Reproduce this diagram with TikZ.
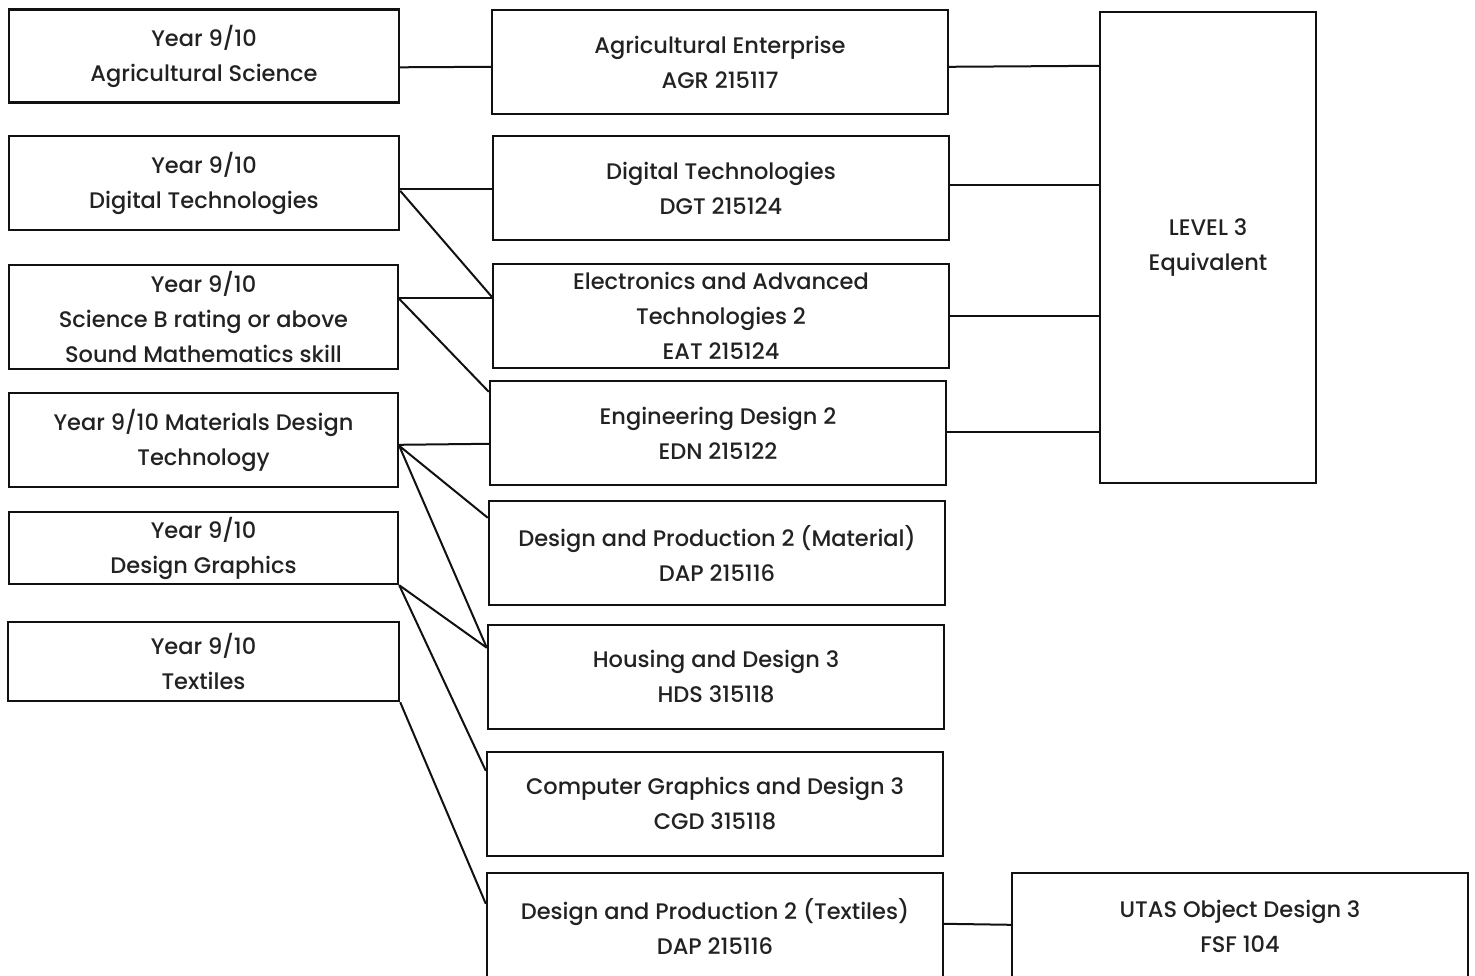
\documentclass[tikz,border=0pt]{standalone}
\usepackage{fontspec}
\setmainfont{Poppins}[UprightFont={* Medium}]
\usetikzlibrary{calc}
\definecolor{ink}{HTML}{111111}
\definecolor{txt}{HTML}{222222}
\tikzset{
  box/.style={draw=ink, line width=2.4pt, inner sep=0pt, align=center, text=txt,
    font=\fontsize{22.5}{35}\selectfont},
  link/.style={draw=ink, line width=2pt}
}
\begin{document}
\begin{tikzpicture}[x=1pt,y=-1pt]
\useasboundingbox (0,0) rectangle (1475,976);
% left column
\node[box, minimum width=390pt, minimum height=93pt] (L1) at (204,56) {Year 9/10\\Agricultural Science};
\node[box, minimum width=390pt, minimum height=94pt] (L2) at (204,183) {Year 9/10\\Digital Technologies};
\node[box, minimum width=389pt, minimum height=104pt] (L3) at (203.5,317) {Year 9/10\\Science B rating or above\\Sound Mathematics skill};
\node[box, minimum width=389pt, minimum height=94pt] (L4) at (203.5,440) {Year 9/10 Materials Design\\Technology};
\node[box, minimum width=389pt, minimum height=72pt] (L5) at (203.5,548) {Year 9/10\\Design Graphics};
\node[box, minimum width=391pt, minimum height=79pt] (L6) at (203.5,661.5) {Year 9/10\\Textiles};
% middle column
\node[box, minimum width=456pt, minimum height=104pt] (M1) at (720,62) {Agricultural Enterprise\\AGR 215117};
\node[box, minimum width=456pt, minimum height=104pt] (M2) at (721,188) {Digital Technologies\\DGT 215124};
\node[box, minimum width=456pt, minimum height=104pt] (M3) at (721,316) {Electronics and Advanced\\Technologies 2\\EAT 215124};
\node[box, minimum width=456pt, minimum height=104pt] (M4) at (718,433) {Engineering Design 2\\EDN 215122};
\node[box, minimum width=456pt, minimum height=104pt] (M5) at (717,553) {Design and Production 2 (Material)\\DAP 215116};
\node[box, minimum width=456pt, minimum height=104pt] (M6) at (716,677) {Housing and Design 3\\HDS 315118};
\node[box, minimum width=456pt, minimum height=104pt] (M7) at (715,804) {Computer Graphics and Design 3\\CGD 315118};
\node[box, minimum width=456pt, minimum height=106pt] (M8) at (715,926) {Design and Production 2 (Textiles)\\DAP 215116};
% right column
\node[box, minimum width=216pt, minimum height=471pt] (R1) at (1208,247.5) {LEVEL 3\\Equivalent};
\node[box, minimum width=456pt, minimum height=106pt] (R2) at (1240,926) {UTAS Object Design 3\\FSF 104};
% connectors: left to middle
\draw[link] ($(L1.north east)+(0,59)$) -- ($(M1.north west)+(0,58)$);
\draw[link] ($(L2.north east)+(0,54)$) -- ($(M2.north west)+(0,54)$);
\draw[link] ($(L2.north east)+(0,56)$) -- ($(M3.north west)+(0,34)$);
\draw[link] ($(L3.north east)+(0,34)$) -- ($(M3.north west)+(0,35)$);
\draw[link] ($(L3.north east)+(0,35)$) -- ($(M4.north west)+(0,12)$);
\draw[link] ($(L4.north east)+(0,53)$) -- ($(M4.north west)+(0,64)$);
\draw[link] ($(L4.north east)+(0,54)$) -- ($(M5.north west)+(0,18)$);
\draw[link] ($(L4.north east)+(0,54)$) -- ($(M6.north west)+(0,24)$);
\draw[link] (L5.south east) -- ($(M6.north west)+(0,24)$);
\draw[link] (L5.south east) -- ($(M7.north west)+(0,20)$);
\draw[link] (L6.south east) -- ($(M8.north west)+(0,32)$);
% connectors: middle to right
\draw[link] ($(M1.north east)+(0,58)$) -- ($(R1.north west)+(0,55)$);
\draw[link] ($(M2.north east)+(0,50)$) -- ($(R1.north west)+(0,174)$);
\draw[link] ($(M3.north east)+(0,53)$) -- ($(R1.north west)+(0,305)$);
\draw[link] ($(M4.north east)+(0,52)$) -- ($(R1.north west)+(0,421)$);
\draw[link] ($(M8.north east)+(0,52)$) -- ($(R2.north west)+(0,53)$);
\end{tikzpicture}
\end{document}
